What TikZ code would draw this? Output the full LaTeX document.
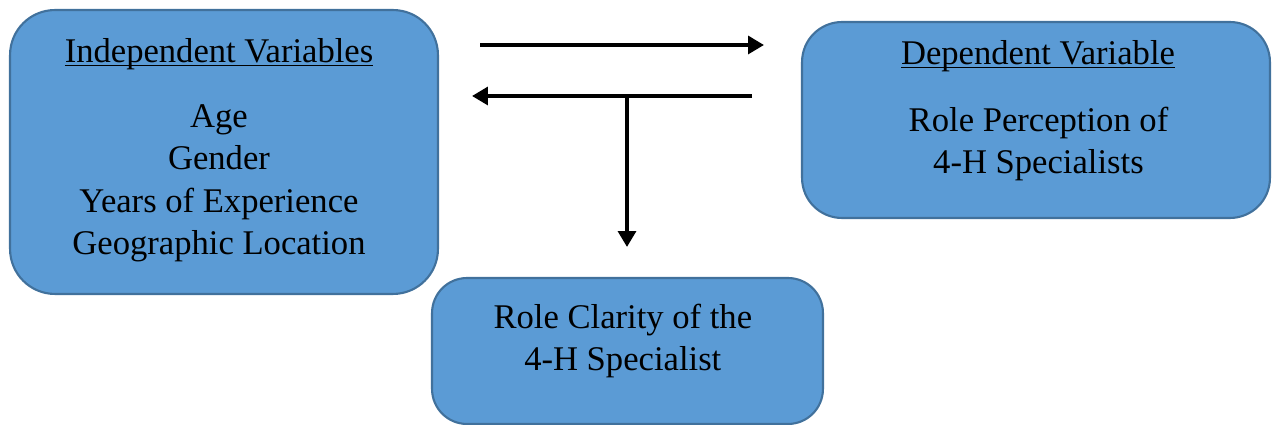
\documentclass[tikz,border=0pt]{standalone}
\usepackage{fontspec}
\setmainfont{Liberation Serif}
\usetikzlibrary{arrows.meta}

\definecolor{boxfill}{HTML}{5B9BD5}
\definecolor{boxline}{HTML}{41719C}

\tikzset{
  varbox/.style={draw=boxline, fill=boxfill, line width=1.2pt, inner sep=0pt,
    rounded corners=#1},
  varbox/.default=0.9cm,
  vartext/.style={font=\fontsize{19.7pt}{24.2pt}\selectfont, align=center, inner sep=0pt},
  flow/.style={line width=2.5pt, -{Triangle[length=9pt,width=10pt]}}
}

\begin{document}
\begin{tikzpicture}[x=0.02cm, y=-0.02cm]
  \useasboundingbox (0,0) rectangle (1272,425);

  \node[varbox, minimum width=8.56cm, minimum height=5.68cm] (indep) at (224,152) {};
  \node[varbox=0.8cm, minimum width=9.36cm, minimum height=3.92cm] (dep) at (1036,120) {};
  \node[varbox=0.7cm, minimum width=7.82cm, minimum height=2.92cm] (clarity) at (627.5,351) {};

  \node[vartext, anchor=base] (indeptitle) at (219,63) {\underline{\smash{Independent Variables}}};
  \node[vartext, anchor=north] (indeplist) at (219,104)
    {Age\\Gender\\Years of Experience\\Geographic Location};

  \node[vartext, anchor=base] (deptitle) at (1038,65) {\underline{\smash{Dependent Variable}}};
  \node[vartext, anchor=north] (deplist) at (1038.5,106.4) {Role Perception of\\4-H Specialists};

  \node[vartext, anchor=north] (claritytext) at (622.8,303.4) {Role Clarity of the\\4-H Specialist};

  % arrows between the boxes
  \coordinate (fwdstart) at (480,45);
  \coordinate (fwdend) at (764,45);
  \coordinate (backstart) at (752,96);
  \coordinate (backend) at (472,96);
  \coordinate (split) at (627,96);
  \coordinate (downend) at (627,247);

  \draw[flow] (fwdstart) -- (fwdend);
  \draw[flow] (backstart) -- (backend);
  \draw[flow] (split) -- (downend);
\end{tikzpicture}
\end{document}
